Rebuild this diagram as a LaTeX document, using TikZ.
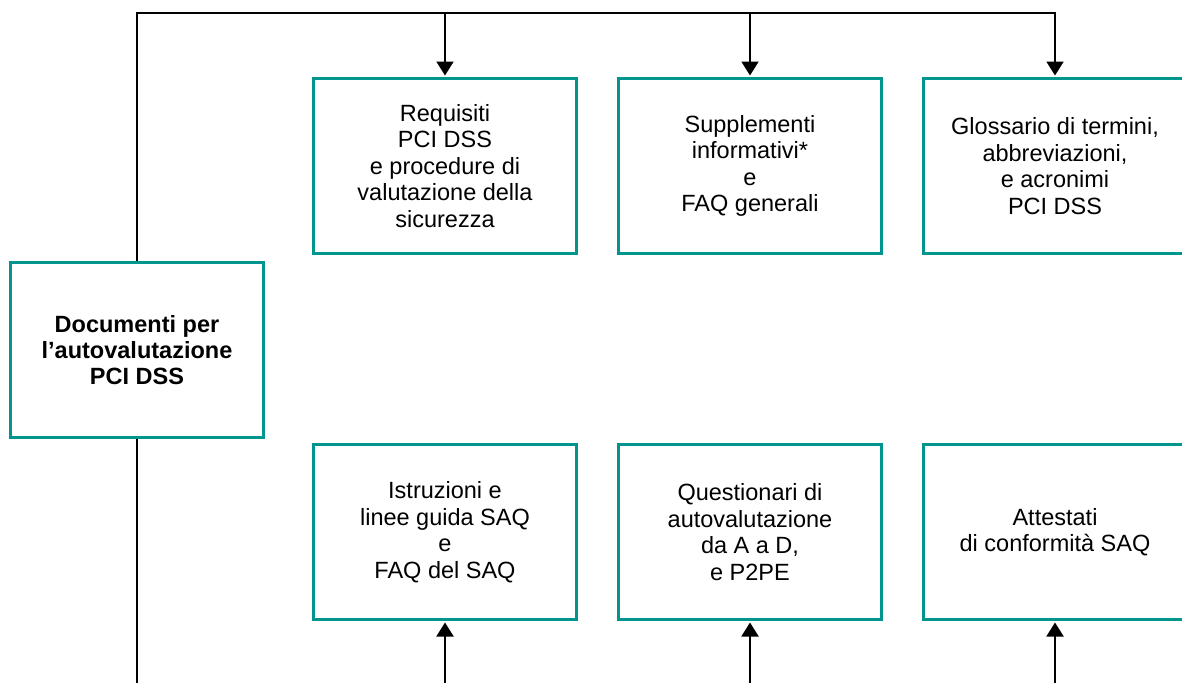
\documentclass[tikz,border=0pt]{standalone}
\usepackage{fontspec}
\setmainfont{Liberation Sans}
\usetikzlibrary{arrows.meta,positioning}
\definecolor{boxteal}{RGB}{0,150,143}

\begin{document}
\begin{tikzpicture}[x=1pt,y=-1pt,->,>={Triangle[width=17pt,length=14pt]},shorten >=1.5pt,line width=2pt,node distance=39pt]
\tikzstyle{docbox}=[rectangle,draw=boxteal,line width=3pt,fill=white,text=black,align=center,minimum width=263pt,minimum height=175pt,font=\fontsize{23.5}{26.5}\selectfont]
\useasboundingbox (0,0) rectangle (1182,683);
\node[docbox,minimum width=253pt,font=\fontsize{23.5}{26}\selectfont\bfseries] (doc) at (137,350) {Documenti per\\l’autovalutazione\\PCI DSS};
\node[docbox] (req) at (445,166) {Requisiti\\PCI DSS\\e procedure di\\valutazione della\\sicurezza};
\node[docbox] (supp) [right=of req] {Supplementi\\informativi*\\e\\FAQ generali};
\node[docbox] (gloss) [right=of supp] {Glossario di termini,\\abbreviazioni,\\e acronimi\\PCI DSS};
\node[docbox] (istr) [below=188pt of req] {Istruzioni e\\linee guida SAQ\\e\\FAQ del SAQ};
\node[docbox] (quest) [right=of istr] {Questionari di\\autovalutazione\\da A a D,\\e P2PE};
\node[docbox] (att) [right=of quest] {Attestati\\di conformità SAQ};
\coordinate (topline) at (0,13);
\coordinate (bottomline) at (0,683);
\draw (doc.north) |- (topline -| gloss.north) -- (gloss.north);
\path
(req.north |- topline) edge (req.north)
(supp.north |- topline) edge (supp.north);
\draw[-,shorten >=0pt] (doc.south) -- (doc.south |- bottomline);
\path
(istr.south |- bottomline) edge (istr.south)
(quest.south |- bottomline) edge (quest.south)
(att.south |- bottomline) edge (att.south);
\end{tikzpicture}
\end{document}
